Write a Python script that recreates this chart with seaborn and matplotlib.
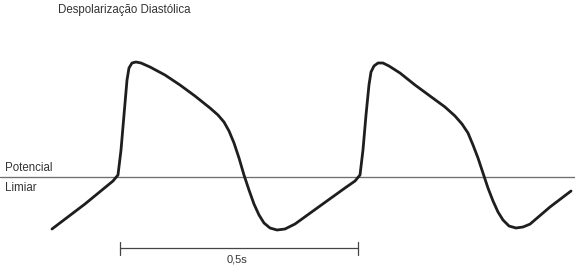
import matplotlib
matplotlib.use("Agg")
import matplotlib.pyplot as plt
import seaborn as sns
import pandas as pd

# Action potential trace: time (ms) and membrane potential (mV)
time_ms = [-137.5, -68.8, -10.4, 0.0, 6.3, 12.5, 18.8, 22.9, 29.2, 37.5, 47.9, 66.7,
           97.9, 129.2, 160.4, 191.7, 208.3, 220.8, 231.3, 241.7, 252.1, 262.5, 272.9,
           283.3, 293.8, 304.2, 316.7, 331.3, 347.9, 368.8, 420.8, 472.9, 493.8, 504.2,
           510.4, 516.7, 522.9, 527.1, 533.3, 541.7, 552.1, 564.6, 587.5, 618.8, 650.0,
           681.3, 702.1, 716.7, 729.2, 739.6, 750.0, 760.4, 770.8, 781.3, 791.7, 802.1,
           814.6, 829.2, 843.8, 858.3, 900.0, 943.8]
potential_mv = [-96.4, -78.9, -62.8, -58.6, -41.1, -16.6, 7.9, 16.3, 19.8, 20.5, 19.8, 17.0,
                11.4, 4.4, -3.3, -11.7, -16.6, -21.5, -27.8, -36.2, -46.7, -58.6, -69.1,
                -78.9, -86.6, -92.2, -95.7, -97.1, -96.4, -92.9, -80.3, -67.7, -62.8, -58.6,
                -41.1, -16.6, 4.4, 13.5, 17.7, 19.8, 19.8, 17.7, 12.8, 4.4, -3.3,
                -11.0, -17.3, -22.9, -29.2, -37.6, -46.7, -57.2, -67.7, -76.8, -84.5, -90.1,
                -94.3, -95.7, -95.0, -93.0, -81.0, -69.8]
threshold_mv = -60
bracket_ms = [4, 500]
title_text = "Despolarização Diastólica"
label_above = "Potencial"
label_below = "Limiar"
bracket_label = "0,5s"

sns.set_style("white")
plt.rcParams['font.family'] = ['Liberation Sans', 'DejaVu Sans']

fig = plt.figure(figsize=(5.75, 2.65), dpi=100)
ax = fig.add_axes([0, 0, 1, 1])

df = pd.DataFrame({"t": time_ms, "v": potential_mv})
ax.axhline(threshold_mv, color="#6f6f6f", lw=0.95, zorder=1)
sns.lineplot(data=df, x="t", y="v", sort=False, estimator=None, ax=ax,
             color="#1e1e1e", lw=2.0, zorder=2)
ax.lines[-1].set_solid_joinstyle("round")
ax.lines[-1].set_solid_capstyle("round")

# time-scale bracket
yb = -109.7
ax.plot(bracket_ms, [yb, yb], color="#444444", lw=0.9)
for xb in bracket_ms:
    ax.plot([xb, xb], [-105.5, -114.6], color="#444444", lw=0.9)
ax.text(sum(bracket_ms) / 2 - 4, -117.6, bracket_label, ha="center", va="center",
        fontsize=8.0, color="#333333")

ax.text(-125, 56.6, title_text, ha="left", va="center", fontsize=8.3, color="#333333")
ax.text(-235, -53.6, label_above, ha="left", va="center", fontsize=8.3, color="#333333")
ax.text(-235, -67.4, label_below, ha="left", va="center", fontsize=8.3, color="#333333")

ax.set_xlim(-245.8, 952.1)
ax.set_ylim(-121.6, 63.9)
ax.axis("off")
fig.savefig("out.png", dpi=100, facecolor="white")
